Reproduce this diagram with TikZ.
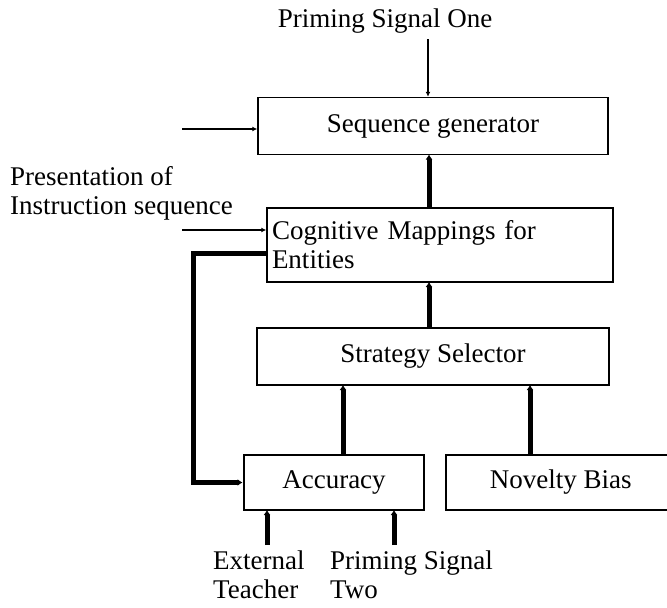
\documentclass[tikz,border=0pt]{standalone}
\usepackage{fontspec}
\setmainfont{Liberation Serif}
\usetikzlibrary{arrows.meta}
\usetikzlibrary{positioning}

\tikzset{
  block/.style={draw=black, line width=1.5pt, inner sep=5pt, minimum height=57pt},
  thin line/.style={line width=1.5pt, -{Latex[length=5pt,width=5pt]}},
  thick line/.style={line width=5pt, -{Latex[length=5pt,width=7pt]}},
  label text/.style={inner sep=0pt, align=left}
}

\begin{document}
\begin{tikzpicture}[x=1pt, y=-1pt, font=\fontsize{27}{29}\selectfont]
\useasboundingbox (0,0) rectangle (667,608);
\clip (0,0) rectangle (667,608);
% boxes
\node (seq) [block, minimum width=350pt] at (433,126) {Sequence generator};
\node (cog) [block, minimum height=74pt, text width=336pt, align=left] at (440,245) {Cognitive Mappings for\\Entities};
\node (sel) [block, minimum width=352pt] at (433,356.5) {Strategy Selector};
\node (acc) [block, minimum width=180pt, minimum height=55pt] at (334,482.5) {Accuracy};
\node (nov) [block, minimum width=230pt, minimum height=55pt, anchor=west] at (445,482.5) {Novelty Bias};
% texts
\node (p1) [label text] at (385,21) {Priming Signal One};
\node (pres) [label text, anchor=west] at (10,193) {Presentation of\\Instruction sequence};
\node (ext) [label text, anchor=north west] at (213,551) {External\\Teacher};
\node (p2) [label text, anchor=north west] at (330,551) {Priming Signal\\Two};
% end points
\coordinate (in1) at (182,129);
\coordinate (in2) at (182,230);
\coordinate (fb) at (193,253);
% connectors
\draw [thin line] (p1.south -| 428,0) ++(0,6) -- (seq.north -| 428,0);
\draw [thin line] (in1) -- (in1 -| seq.west);
\draw [thin line] (in2) -- (in2 -| cog.west);
\draw [thick line] (seq.south -| 429,0) ++(0,25) -- ([yshift=0.75pt]seq.south -| 429,0);
\draw [line width=5pt] (seq.south -| 429,0) ++(0,20) -- (cog.north -| 429,0);
\draw [thick line] (sel.north -| 429,0) -- ([yshift=0.75pt]cog.south -| 429,0);
\draw [thick line] (acc.north -| 343,0) -- ([yshift=0.75pt]sel.south -| 343,0);
\draw [thick line] (nov.north -| 530,0) -- ([yshift=0.75pt]sel.south -| 530,0);
\draw [thick line] (fb -| cog.west) -- (fb) |- ([xshift=-0.75pt]acc.west);
\draw [thick line] (ext.north -| 267,0) ++(0,-6) -- ([yshift=0.75pt]acc.south -| 267,0);
\draw [thick line] (p2.north -| 394,0) ++(0,-6) -- ([yshift=0.75pt]acc.south -| 394,0);
\end{tikzpicture}
\end{document}
